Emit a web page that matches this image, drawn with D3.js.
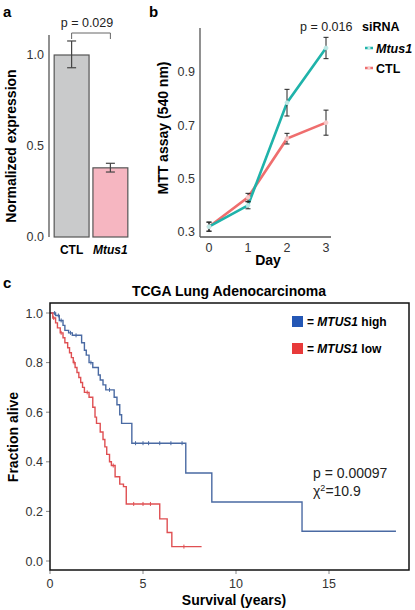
<!DOCTYPE html>
<html><head><meta charset="utf-8">
<script src="https://cdn.jsdelivr.net/npm/d3@7"></script>
<style>
body{margin:0;background:#fff;}
svg{font-family:"Liberation Sans",Arial,Helvetica,sans-serif;}
</style></head><body>
<svg id="c" width="415" height="610"></svg>
<script>
// ---- Panel a data ----
const barCategories = ["CTL", "Mtus1"];
const barValues = [1.0, 0.38];
const barErrLow = [0.93, 0.357];
const barErrHigh = [1.077, 0.405];
const barColors = ["#c9cacb", "#f6b6c1"];
const barTicks = [0.0, 0.5, 1.0];

// ---- Panel b data ----
const days = [0, 1, 2, 3];
const mttMtus1 = [0.32, 0.40, 0.785, 0.99];
const mttMtus1Err = [0.017, 0.013, 0.05, 0.04];
const mttCTL = [0.32, 0.43, 0.65, 0.71];
const mttCTLErr = [0.017, 0.015, 0.02, 0.047];
const mttTicks = [0.3, 0.5, 0.7, 0.9];

// ---- Panel c data (Kaplan-Meier steps: [years, fraction]) ----
const kmHigh = [[0,1.0],[0.3,0.99],[0.5,0.97],[0.7,0.95],[0.8,0.93],[1.0,0.92],[1.2,0.91],[1.7,0.88],[1.85,0.85],[1.95,0.83],[2.1,0.80],[2.3,0.78],[2.6,0.75],[2.7,0.73],[2.85,0.71],[3.0,0.69],[3.45,0.66],[3.6,0.63],[3.75,0.59],[3.85,0.555],[4.4,0.475],[7.3,0.355],[8.7,0.238],[13.55,0.12],[18.6,0.12]];
const kmLow = [[0,1.0],[0.15,0.98],[0.3,0.96],[0.4,0.94],[0.55,0.92],[0.7,0.90],[0.8,0.88],[0.95,0.86],[1.05,0.84],[1.15,0.82],[1.25,0.80],[1.35,0.78],[1.45,0.76],[1.55,0.74],[1.65,0.72],[1.75,0.70],[1.85,0.68],[2.1,0.66],[2.3,0.62],[2.42,0.58],[2.5,0.555],[2.7,0.52],[2.85,0.49],[2.95,0.46],[3.05,0.43],[3.2,0.40],[3.3,0.385],[3.5,0.34],[3.75,0.31],[3.95,0.30],[4.1,0.23],[5.9,0.17],[6.3,0.115],[6.55,0.058],[8.15,0.058]];
const censorHigh = [0.25, 0.45, 0.6, 1.1, 1.4, 2.2, 3.2, 4.6, 5.0, 5.3, 5.9, 6.5, 7.1];
const censorLow = [0.2, 0.6, 1.3, 2.0, 3.4, 4.5, 5.0, 5.4, 7.2];
const kmXTicks = [0, 5, 10, 15];
const kmYTicks = [0.0, 0.2, 0.4, 0.6, 0.8, 1.0];

const svg = d3.select("#c");
const tickCol = "#333";

// panel letters
[["a",3,17],["b",149,17],["c",3,288]].forEach(([t,x,y])=>{
  svg.append("text").attr("x",x).attr("y",y).attr("font-size",15).attr("font-weight","bold").text(t);
});

// ================= Panel a =================
{
  const y = d3.scaleLinear().domain([0,1]).range([237,55]);
  const x = d3.scaleBand().domain(barCategories).range([53,129]).paddingInner(0.1).paddingOuter(0.03);
  const g = svg.append("g");
  g.append("line").attr("x1",49).attr("x2",49).attr("y1",y(1.11)).attr("y2",y(0)).attr("stroke","#555").attr("stroke-width",1.3);
  barTicks.forEach(t=>{
    g.append("text").attr("x",44).attr("y",y(t)).attr("dy","0.35em").attr("text-anchor","end")
     .attr("font-size",12.5).attr("fill",tickCol).text(t.toFixed(1));
  });
  barCategories.forEach((c,i)=>{
    g.append("rect").attr("x",x(c)).attr("y",y(barValues[i])).attr("width",x.bandwidth()).attr("height",y(0)-y(barValues[i]))
     .attr("fill",barColors[i]).attr("stroke","#555").attr("stroke-width",1.2);
    const cx = x(c)+x.bandwidth()/2;
    g.append("line").attr("x1",cx).attr("x2",cx).attr("y1",y(barErrLow[i])).attr("y2",y(barErrHigh[i])).attr("stroke","#444").attr("stroke-width",1.2);
    [barErrLow[i],barErrHigh[i]].forEach(v=>{
      g.append("line").attr("x1",cx-4.5).attr("x2",cx+4.5).attr("y1",y(v)).attr("y2",y(v)).attr("stroke","#444").attr("stroke-width",1.2);
    });
    g.append("text").attr("x",cx).attr("y",254).attr("text-anchor","middle").attr("font-size",12).attr("font-weight","bold")
     .attr("font-style", i===1?"italic":"normal").text(c);
  });
  // significance bracket
  const x1 = x("CTL")+x.bandwidth()/2, x2 = x("Mtus1")+x.bandwidth()/2;
  g.append("path").attr("d",`M${x1},39V33H${x2}V39`).attr("fill","none").attr("stroke","#666").attr("stroke-width",1);
  g.append("text").attr("x",(x1+x2)/2-4).attr("y",27).attr("text-anchor","middle").attr("font-size",12.5).attr("fill","#222").text("p = 0.029");
  g.append("text").attr("transform","translate(16,146) rotate(-90)").attr("text-anchor","middle").attr("font-size",14)
   .attr("font-weight","bold").text("Normalized expression");
}

// ================= Panel b =================
{
  const x = d3.scaleLinear().domain([0,3]).range([209,326]);
  const y = d3.scaleLinear().domain([0.3,0.9]).range([232,72]);
  const g = svg.append("g");
  g.append("line").attr("x1",200).attr("x2",200).attr("y1",28).attr("y2",237).attr("stroke","#555").attr("stroke-width",1.3);
  g.append("line").attr("x1",200).attr("x2",331).attr("y1",237).attr("y2",237).attr("stroke","#555").attr("stroke-width",1.3);
  mttTicks.forEach(t=>{
    g.append("text").attr("x",195).attr("y",y(t)).attr("dy","0.35em").attr("text-anchor","end").attr("font-size",12.5).attr("fill",tickCol).text(t.toFixed(1));
  });
  days.forEach(d=>{
    g.append("text").attr("x",x(d)).attr("y",252).attr("text-anchor","middle").attr("font-size",12.5).attr("fill",tickCol).text(d);
  });
  g.append("text").attr("x",268).attr("y",265).attr("text-anchor","middle").attr("font-size",14).attr("font-weight","bold").text("Day");
  g.append("text").attr("transform","translate(168,128) rotate(-90)").attr("text-anchor","middle").attr("font-size",14)
   .attr("font-weight","bold").text("MTT assay (540 nm)");
  const series = [
    {v:mttCTL, e:mttCTLErr, c:"#ef6e6e", f:"#f8c9c9"},
    {v:mttMtus1, e:mttMtus1Err, c:"#1fb3aa", f:"#bde9e6"}
  ];
  const line = d3.line().x((d,i)=>x(days[i])).y(d=>y(d));
  series.forEach(s=>{
    g.append("path").attr("d",line(s.v)).attr("fill","none").attr("stroke",s.c).attr("stroke-width",2.6);
  });
  series.forEach(s=>{
    s.v.forEach((v,i)=>{
      const cx=x(days[i]);
      g.append("line").attr("x1",cx).attr("x2",cx).attr("y1",y(v-s.e[i])).attr("y2",y(v+s.e[i])).attr("stroke","#222").attr("stroke-width",1);
      [v-s.e[i],v+s.e[i]].forEach(w=>g.append("line").attr("x1",cx-2.5).attr("x2",cx+2.5).attr("y1",y(w)).attr("y2",y(w)).attr("stroke","#222").attr("stroke-width",1));
      g.append("circle").attr("cx",cx).attr("cy",y(v)).attr("r",2).attr("fill",s.f).attr("stroke",s.f).attr("stroke-width",0.8);
    });
  });
  g.append("text").attr("x",300).attr("y",31).attr("font-size",12.5).attr("fill","#222").text("p = 0.016");
  g.append("text").attr("x",362).attr("y",31).attr("font-size",12.5).attr("font-weight","bold").text("siRNA");
  [["Mtus1","#1fb3aa","#bde9e6",48,true],["CTL","#ef6e6e","#f8c9c9",68,false]].forEach(([t,c,f,yy,it])=>{
    g.append("line").attr("x1",365).attr("x2",373).attr("y1",yy).attr("y2",yy).attr("stroke",c).attr("stroke-width",2.5);
    g.append("circle").attr("cx",369).attr("cy",yy).attr("r",1.6).attr("fill",f);
    g.append("text").attr("x",376).attr("y",yy).attr("dy","0.36em").attr("font-size",12.5).attr("font-weight","bold")
     .attr("font-style",it?"italic":"normal").text(t);
  });
}

// ================= Panel c =================
{
  const x = d3.scaleLinear().domain([0,5]).range([50,143]);
  const y = d3.scaleLinear().domain([0,1]).range([561,313]);
  const g = svg.append("g");
  const L=50,R=409,T=303,B=570;
  g.append("text").attr("x",229).attr("y",296).attr("text-anchor","middle").attr("font-size",14).attr("font-weight","bold").text("TCGA Lung Adenocarcinoma");
  kmYTicks.forEach(t=>{
    g.append("line").attr("x1",L-4).attr("x2",L).attr("y1",y(t)).attr("y2",y(t)).attr("stroke","#888");
    g.append("text").attr("x",L-7).attr("y",y(t)).attr("dy","0.36em").attr("text-anchor","end").attr("font-size",12.5).attr("fill",tickCol).text(t.toFixed(1));
  });
  kmXTicks.forEach(t=>{
    g.append("line").attr("x1",x(t)).attr("x2",x(t)).attr("y1",B).attr("y2",B+4).attr("stroke","#888");
    g.append("text").attr("x",x(t)).attr("y",588).attr("text-anchor","middle").attr("font-size",12.5).attr("fill",tickCol).text(t);
  });
  g.append("text").attr("x",234).attr("y",605).attr("text-anchor","middle").attr("font-size",14).attr("font-weight","bold").text("Survival (years)");
  g.append("text").attr("transform","translate(18,437) rotate(-90)").attr("text-anchor","middle").attr("font-size",14)
   .attr("font-weight","bold").text("Fraction alive");
  const step = d3.line().x(d=>x(d[0])).y(d=>y(d[1])).curve(d3.curveStepAfter);
  const survAt = (km,t)=>{let s=km[0][1]; km.forEach(d=>{if(d[0]<=t) s=d[1];}); return s;};
  [[kmHigh,censorHigh,"#4a6aa3"],[kmLow,censorLow,"#df4f52"]].forEach(([km,cens,col])=>{
    g.append("path").attr("d",step(km)).attr("fill","none").attr("stroke",col).attr("stroke-width",1.4);
    cens.forEach(t=>{
      const yy=y(survAt(km,t));
      g.append("line").attr("x1",x(t)).attr("x2",x(t)).attr("y1",yy-2).attr("y2",yy+2).attr("stroke",col).attr("stroke-width",1);
    });
  });
  g.append("rect").attr("x",L).attr("y",T).attr("width",R-L).attr("height",B-T).attr("fill","none").attr("stroke","#111").attr("stroke-width",1.5);
  // legend
  [["#2457b5"," high",322],["#e83a3a"," low",349]].forEach(([c,suf,yy])=>{
    g.append("rect").attr("x",292).attr("y",yy-6).attr("width",11).attr("height",11).attr("fill",c);
    const t=g.append("text").attr("x",307).attr("y",yy).attr("dy","0.36em").attr("font-size",12).attr("font-weight","bold");
    t.append("tspan").text("= ");
    t.append("tspan").attr("font-style","italic").text("MTUS1");
    t.append("tspan").text(suf);
  });
  g.append("text").attr("x",313).attr("y",478).attr("font-size",14).attr("fill","#222").text("p = 0.00097");
  const chi=g.append("text").attr("x",313).attr("y",496).attr("font-size",14).attr("fill","#222");
  chi.append("tspan").text("χ");
  chi.append("tspan").attr("dy",-5).attr("font-size",9).text("2");
  chi.append("tspan").attr("dy",5).text("=10.9");
}
</script></body></html>
